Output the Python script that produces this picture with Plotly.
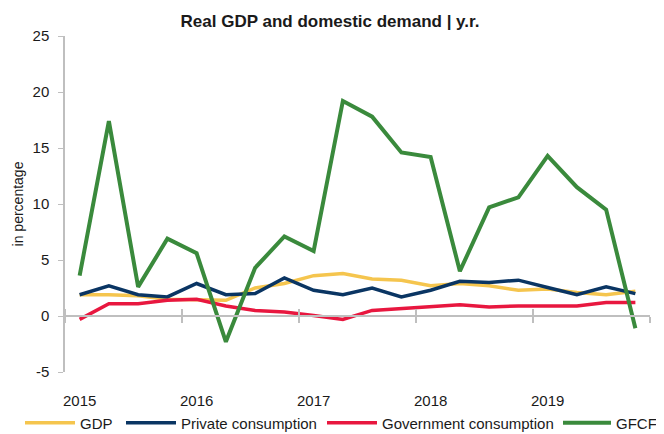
import plotly.graph_objects as go

# quarterly, 2015 Q1 .. 2019 Q4
quarters = [f"{y} Q{q}" for y in range(2015, 2020) for q in range(1, 5)]
years = ["2015", "2016", "2017", "2018", "2019"]
y_ticks = [-5, 0, 5, 10, 15, 20, 25]
y_ticktext = ["-5", "0", "5", "10", "15", "20", "25"]

gdp = [1.9, 1.9, 1.8, 1.5, 1.45, 1.4, 2.5, 2.9, 3.6, 3.8,
       3.3, 3.2, 2.7, 2.9, 2.7, 2.3, 2.4, 2.1, 1.9, 2.2]
private_cons = [1.9, 2.7, 1.9, 1.7, 2.9, 1.9, 2.0, 3.4, 2.3, 1.9,
                2.5, 1.7, 2.3, 3.1, 3.0, 3.2, 2.55, 1.9, 2.6, 2.0]
gov_cons = [-0.3, 1.1, 1.1, 1.4, 1.5, 0.9, 0.5, 0.35, 0.05, -0.3,
            0.5, 0.65, 0.8, 1.0, 0.8, 0.9, 0.9, 0.9, 1.2, 1.2]
gfcf = [3.6, 17.4, 2.6, 6.9, 5.6, -2.3, 4.3, 7.1, 5.8, 19.2,
        17.8, 14.6, 14.2, 4.0, 9.7, 10.6, 14.3, 11.5, 9.5, -1.1]

FONT = "Arial, Liberation Sans, sans-serif"
AXIS_GREY = "#BFBFBF"
# the page body keeps its default 8px margin, so the figure is a bit smaller
W, H = 656, 426

x = list(range(len(quarters)))
# name, values, colour, width, x axis, legend id, legend x (px), symbol width
series = [
    ("GDP", gdp, "#F5C54E", 3.5, "x", "legend", 12, 50),
    ("Private consumption", private_cons, "#0A3563", 3.5, "x", "legend2", 113, 50),
    ("Government consumption", gov_cons, "#E8173F", 3.5, "x", "legend3", 314, 50),
    ("GFCF", gfcf, "#3A8A3C", 4, "x2", "legend4", 550, 48),
]

fig = go.Figure()
for name, vals, color, w, xa, lg, _, _ in series:
    fig.add_trace(go.Scatter(
        x=x, y=vals, name=name, mode="lines", xaxis=xa, legend=lg,
        line=dict(color=color, width=w),
        text=quarters,
        hovertemplate="%{text}: %{y:.1f}<extra>" + name + "</extra>",
    ))

xr = [-0.5, len(quarters) - 0.5]
bounds = [i - 0.5 for i in range(0, len(quarters) + 1, 4)]

legends = {}
for name, _, _, _, _, lg, lx, iw in series:
    legends[lg] = dict(orientation="h", xref="container", x=lx / W,
                       xanchor="left", yref="container", y=11 / H,
                       yanchor="middle", font=dict(size=15), itemwidth=iw,
                       bgcolor="rgba(0,0,0,0)")

fig.update_layout(
    width=W, height=H,
    margin=dict(l=57, r=14, t=28, b=62, autoexpand=False),
    paper_bgcolor="white", plot_bgcolor="white",
    font=dict(family=FONT, size=15, color="#1A1A1A"),
    title=dict(text="<b>Real GDP and domestic demand | y.r.</b>",
               x=322 / W, xanchor="center", y=1 - 13.5 / H, yanchor="middle",
               font=dict(size=17, color="#1A1A1A")),
    showlegend=True,
    **legends,
    xaxis=dict(range=xr, tickvals=list(range(0, len(quarters), 4)),
               ticktext=years, ticks="", showline=False, showgrid=False,
               zeroline=False, ticklabelstandoff=18),
    # axis line drawn at y = 0, tick marks crossing it between the years
    xaxis2=dict(overlaying="x", anchor="free", position=1 / 6, range=xr,
                tickvals=bounds, showticklabels=False, ticks="outside",
                ticklen=6, tickcolor=AXIS_GREY, tickwidth=1.5,
                showline=True, linecolor=AXIS_GREY, linewidth=1.5,
                showgrid=False, zeroline=False,
                minor=dict(tickvals=[b + 0.002 for b in bounds], ticks="inside",
                           ticklen=6, tickcolor=AXIS_GREY, tickwidth=1.5,
                           showgrid=False)),
    yaxis=dict(range=[-5, 25], tickvals=y_ticks, ticktext=y_ticktext,
               showgrid=False, zeroline=False,
               showline=True, linecolor=AXIS_GREY, linewidth=1.5,
               ticks="outside", ticklen=5, tickcolor=AXIS_GREY,
               ticklabelstandoff=6,
               title=dict(text="in percentage", font=dict(size=14),
                          standoff=6)),
)

fig.write_html("out.html")
